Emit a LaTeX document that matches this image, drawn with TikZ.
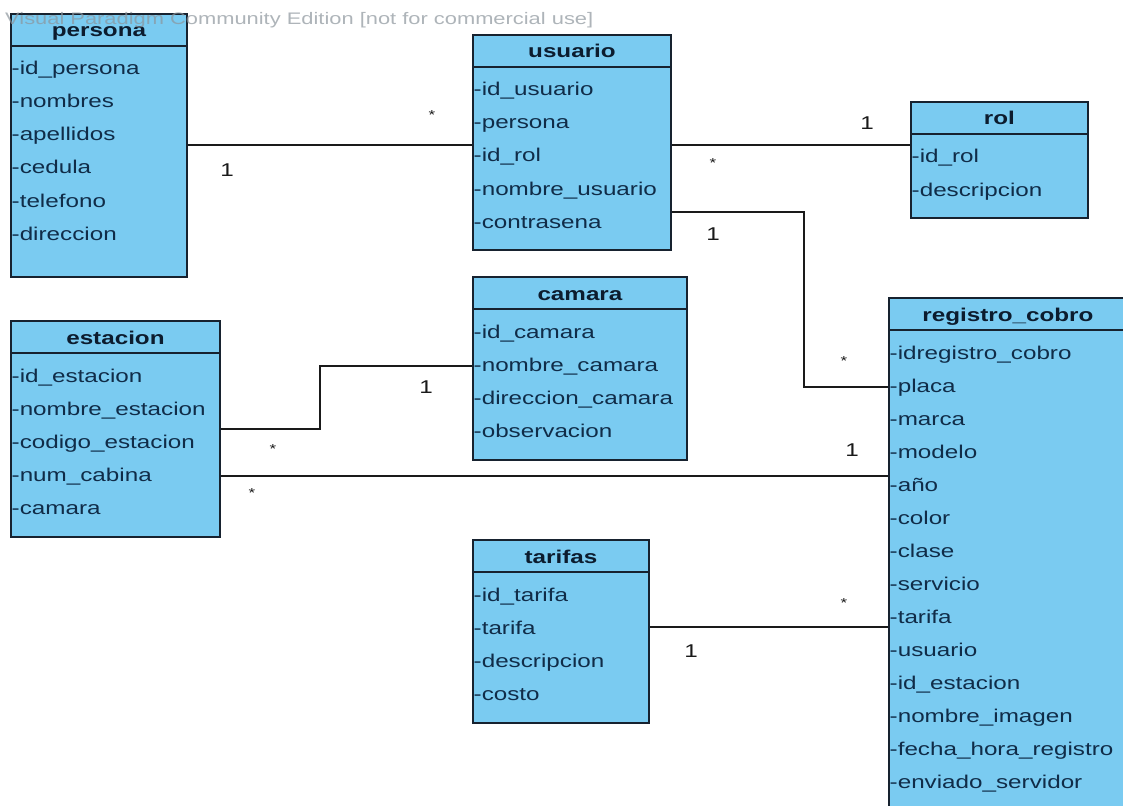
\documentclass[tikz,border=0pt]{standalone}
\usepackage{fontspec}
\setmainfont{Liberation Sans}[FakeStretch=1.31]
\usetikzlibrary{calc}
\definecolor{boxfill}{HTML}{7ACBF1}
\definecolor{boxline}{HTML}{17222F}
\definecolor{attrink}{HTML}{102C48}
\definecolor{titleink}{HTML}{0C1C2E}
\definecolor{linkink}{HTML}{1A1A1A}
\definecolor{markgrey}{HTML}{8C959C}

% one class: name, x, y top, width, height, title, attributes
\newcommand{\umlclass}[7]{%
  \node[classbox, minimum width=#4pt, minimum height=#5pt, anchor=north west] (#1) at (#2,#3) {};
  \node[classtitle] (#1-t) at ($(#1.north)+(0,24)$) {#6};
  \draw[sepline] ($(#1.north west)+(0,33)$) -- ($(#1.north east)+(0,33)$);
  \foreach \a [count=\i] in {#7} \node[classattr] (#1-\i) at ($(#1.north west)+(1.5,29+33*\i)$) {-\a};
}

\begin{document}
\begin{tikzpicture}[x=1pt,y=-1pt,font=\fontsize{18.5}{22}\selectfont,
  classbox/.style={draw=boxline, line width=1.9pt, fill=boxfill, inner sep=0pt},
  classtitle/.style={anchor=base, inner sep=0pt, text=titleink, font=\fontsize{18.5}{22}\selectfont\bfseries},
  classattr/.style={anchor=base west, inner sep=0pt, text=attrink},
  sepline/.style={draw=boxline, line width=1.7pt},
  link/.style={draw=linkink, line width=2pt},
  multone/.style={anchor=base, inner sep=0pt, text=linkink},
  multstar/.style={anchor=base, inner sep=0pt, text=linkink, font=\fontsize{13}{13}\selectfont},
  watermark/.style={anchor=base west, inner sep=0pt, text=markgrey, text opacity=0.7, font=\fontsize{16.7}{18}\selectfont}]
  \clip (0,0) rectangle (1123,805); \fill[white] (0,0) rectangle (1123,805);
  % classes
  \umlclass{persona}{10}{13}{176}{263}{persona}{id\_persona,nombres,apellidos,cedula,telefono,direccion}
  \umlclass{usuario}{472}{34}{198}{215}{usuario}{id\_usuario,persona,id\_rol,nombre\_usuario,contrasena}
  \umlclass{rol}{910}{101}{177}{116}{rol}{id\_rol,descripcion}
  \umlclass{estacion}{10}{320}{209}{216}{estacion}{id\_estacion,nombre\_estacion,codigo\_estacion,num\_cabina,camara}
  \umlclass{camara}{472}{276}{214}{183}{camara}{id\_camara,nombre\_camara,direccion\_camara,observacion}
  \umlclass{tarifas}{472}{539}{176}{183}{tarifas}{id\_tarifa,tarifa,descripcion,costo}
  \umlclass{rc}{888}{297}{238}{527}{registro\_cobro}{idregistro\_cobro,placa,marca,modelo,año,color,clase,servicio,tarifa,usuario,id\_estacion,nombre\_imagen,fecha\_hora\_registro,enviado\_servidor}
  % associations
  \draw[link] (persona.east) -- (persona.east -| usuario.west);
  \draw[link] (usuario.east |- persona.east) -- (rol.west |- persona.east);
  \draw[link] ($(usuario.south east)+(0,-39)$) -- ++(132,0) |- (rc.west |- rc-2.west);
  \draw[link] (estacion.east) -- ++(99,0) |- (camara.west |- camara-2.west);
  \draw[link] (estacion.east |- estacion-4.west) -- (rc.west |- estacion-4.west);
  \draw[link] (tarifas.east |- tarifas-2.west) -- (rc.west |- tarifas-2.west);
  % multiplicities
  \node[multone] (m-persona) at (227,177) {1};
  \node[multstar] (m-usuario-a) at (432,119.5) {*};
  \node[multstar] (m-usuario-b) at (713,167.5) {*};
  \node[multone] (m-rol) at (867,130) {1};
  \node[multone] (m-usuario-c) at (713,240) {1};
  \node[multstar] (m-rc-a) at (844,365.5) {*};
  \node[multone] (m-camara) at (426,393) {1};
  \node[multstar] (m-estacion-a) at (273,453.5) {*};
  \node[multstar] (m-estacion-b) at (252,497.5) {*};
  \node[multone] (m-rc-b) at (852,456) {1};
  \node[multone] (m-tarifas) at (691,657) {1};
  \node[multstar] (m-rc-c) at (844,607.5) {*};
  \node[watermark] (vpmark) at (5,25) {Visual Paradigm Community Edition [not for commercial use]};
\end{tikzpicture}
\end{document}
